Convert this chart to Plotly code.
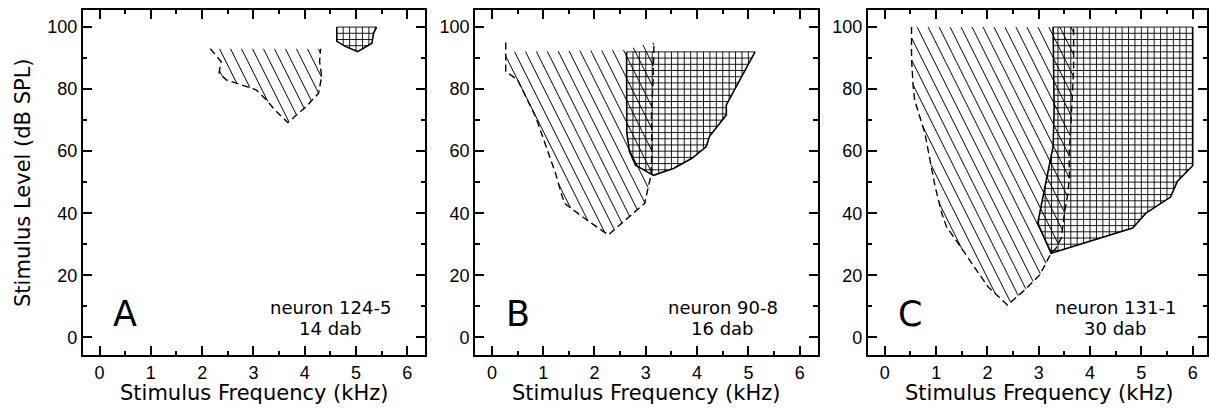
import numpy as np
import plotly.graph_objects as go

# ---------------- data ----------------
# Panel A (neuron 124-5, 14 dab)
A_tc_freq = [2.16, 2.37, 2.33, 2.47, 3.05, 3.25, 3.41, 3.67, 4.03, 4.27, 4.33, 4.29, 4.31]
A_tc_level = [93, 88.9, 85.2, 83, 79.8, 76.6, 73.4, 69.2, 74.4, 78.7, 84.1, 88.9, 93]
A_tc_top_freq = []
A_tc_top_level = []
A_ra_freq = [4.625, 4.625, 4.8, 5.03, 5.31, 5.34, 5.4]
A_ra_level = [100, 95.4, 93.7, 92.1, 94.8, 98, 100]

# Panel B (neuron 90-8, 16 dab)
B_tc_freq = [0.27, 0.27, 0.50, 0.69, 0.85, 1.24, 1.37, 1.43, 1.85, 2.27, 2.69, 2.98,
             3.05, 3.10, 3.12, 3.11, 3.14, 3.16]
B_tc_level = [95, 85.7, 83, 76.5, 71.2, 52.9, 45.4, 43, 37.8, 33, 38.9, 43.2,
              48.6, 52, 60, 72, 82, 95]
B_tc_top_freq = [3.0, 2.6, 0.27]
B_tc_top_level = [94.5, 92.6, 92]
B_ra_freq = [2.625, 2.63, 2.68, 2.80, 3.15, 3.55, 3.90, 4.18, 4.24, 4.57, 4.57, 5.13]
B_ra_level = [92, 66, 60, 55.5, 52.2, 54.5, 57.7, 61.5, 64.7, 71.7, 74.9, 92]

# Panel C (neuron 131-1, 30 dab)
C_tc_freq = [0.52, 0.52, 0.55, 0.58, 0.78, 0.88, 0.98, 1.11, 1.20, 1.56, 2.01, 2.39,
             2.73, 3.02, 3.11, 3.24, 3.34, 3.44, 3.50, 3.57, 3.60, 3.59, 3.63, 3.66, 3.68, 3.68]
C_tc_level = [100, 90, 81.4, 76.5, 65.8, 57.2, 48.6, 40, 35.7, 27.1, 16.3, 10.4,
              15.3, 20.1, 22.8, 27.1, 28.8, 32, 40, 46.5, 52, 58, 70, 80, 86, 100]
C_tc_top_freq = []
C_tc_top_level = []
C_ra_freq = [3.28, 3.30, 3.28, 3.18, 3.08, 2.98, 3.24, 4.83, 5.09, 5.57, 5.70, 6.0, 6.0]
C_ra_level = [100, 73.3, 61.5, 52.9, 45.4, 36.8, 27.1, 35.2, 40, 45.2, 50.2, 55.3, 100]

panel_letters = ["A", "B", "C"]
neuron_ids = ["neuron 124-5", "neuron 90-8", "neuron 131-1"]
dab_labels = ["14 dab", "16 dab", "30 dab"]

x_ticks = [0, 1, 2, 3, 4, 5, 6]
y_ticks = [0, 20, 40, 60, 80, 100]
x_title = "Stimulus Frequency (kHz)"
y_title = "Stimulus Level (dB SPL)"

# ---------------- style / geometry ----------------
W, H = 1209, 409
KX, KY = 51.39, 3.102           # px per kHz, px per dB
HATCH_SLOPE = 2 * KX / KY        # diagonal hatch: 2 px down per px right
HATCH_STEP = 22 / KY             # ~11 px horizontal spacing
GRID_DX, GRID_DY = 0.125, 2.0    # cross-hatch spacing (kHz, dB)

x_domains = [[83 / W, 426 / W], [476 / W, 819 / W], [869.3 / W, 1.0]]
x_ranges = [[-0.325, 6.35], [-0.325, 6.35], [-0.331, 6.28]]
y_domain = [1 - 355 / H, 1 - 9.7 / H]
y_range = [-5.71, 105.6]

TICK_FONT = dict(family="Liberation Sans", size=18, color="black")
TITLE_FONT = dict(family="DejaVu Sans", size=21, color="black")
LABEL_FONT = dict(family="DejaVu Sans", size=18, color="black")
LETTER_FONT = dict(family="DejaVu Sans", size=35, color="black")


def clip_family(xs, ys, a, b, levels, key):
    """Segments of lines a*x + b*y = c lying inside the polygon (xs, ys)."""
    px = np.asarray(xs, float)
    py = np.asarray(ys, float)
    qx = np.roll(px, -1)
    qy = np.roll(py, -1)
    f1 = a * px + b * py
    f2 = a * qx + b * qy
    outx, outy = [], []
    for c in levels:
        pts = []
        for i in range(len(px)):
            lo, hi = f1[i], f2[i]
            if (lo <= c < hi) or (hi <= c < lo):
                t = (c - lo) / (hi - lo)
                pts.append((px[i] + t * (qx[i] - px[i]), py[i] + t * (qy[i] - py[i])))
        pts.sort(key=key)
        for j in range(0, len(pts) - 1, 2):
            outx += [pts[j][0], pts[j + 1][0], None]
            outy += [pts[j][1], pts[j + 1][1], None]
    return outx, outy


def diag_hatch(xs, ys):
    f = np.asarray(ys) + HATCH_SLOPE * np.asarray(xs)
    levels = np.arange(np.floor(f.min() / HATCH_STEP), np.ceil(f.max() / HATCH_STEP) + 1) * HATCH_STEP + 0.3
    return clip_family(xs, ys, HATCH_SLOPE, 1.0, levels, key=lambda p: p[0])


def cross_hatch(xs, ys):
    xs_a = np.asarray(xs)
    ys_a = np.asarray(ys)
    lv = np.arange(np.floor(xs_a.min() / GRID_DX), np.ceil(xs_a.max() / GRID_DX) + 1) * GRID_DX - 1e-6
    vx, vy = clip_family(xs, ys, 1.0, 0.0, lv, key=lambda p: p[1])
    lh = np.arange(np.floor(ys_a.min() / GRID_DY), np.ceil(ys_a.max() / GRID_DY) + 1) * GRID_DY - 1e-6
    hx, hy = clip_family(xs, ys, 0.0, 1.0, lh, key=lambda p: p[0])
    return vx + hx, vy + hy


panels = [
    (A_tc_freq, A_tc_level, A_tc_top_freq, A_tc_top_level, A_ra_freq, A_ra_level),
    (B_tc_freq, B_tc_level, B_tc_top_freq, B_tc_top_level, B_ra_freq, B_ra_level),
    (C_tc_freq, C_tc_level, C_tc_top_freq, C_tc_top_level, C_ra_freq, C_ra_level),
]

fig = go.Figure()
annotations = []

for i, (tf, tl, ttf, ttl, rf, rl) in enumerate(panels):
    xa = "x" if i == 0 else f"x{i + 1}"
    ya = "y" if i == 0 else f"y{i + 1}"
    common = dict(xaxis=xa, yaxis=ya, mode="lines", hoverinfo="skip", showlegend=False)

    # cross-hatched response area
    gx, gy = cross_hatch(rf, rl)
    fig.add_trace(go.Scatter(x=gx, y=gy, line=dict(color="black", width=0.9), **common))
    # diagonally hatched tuning area
    hx, hy = diag_hatch(list(tf) + list(ttf), list(tl) + list(ttl))
    fig.add_trace(go.Scatter(x=hx, y=hy, line=dict(color="black", width=1), **common))
    # outlines
    fig.add_trace(go.Scatter(x=rf, y=rl, line=dict(color="black", width=1.6), **common))
    fig.add_trace(go.Scatter(x=tf, y=tl, line=dict(color="black", width=1.4, dash="7px,4px"), **common))

    axis_common = dict(
        showline=True, linewidth=2, linecolor="black", mirror="ticks",
        ticks="inside", ticklen=9, tickwidth=2, tickcolor="black",
        showgrid=False, zeroline=False, tickfont=TICK_FONT,
    )
    fig.layout[("xaxis" if i == 0 else f"xaxis{i + 1}")] = dict(
        domain=x_domains[i], range=x_ranges[i], anchor=ya,
        tickmode="array", tickvals=x_ticks,
        minor=dict(dtick=0.5, tick0=0, ticks="inside", ticklen=4.5, tickwidth=1.5, tickcolor="black"),
        **axis_common,
    )
    fig.layout[("yaxis" if i == 0 else f"yaxis{i + 1}")] = dict(
        domain=y_domain, range=y_range, anchor=xa,
        tickmode="array", tickvals=y_ticks,
        minor=dict(dtick=10, tick0=0, ticks="inside", ticklen=4.5, tickwidth=1.5, tickcolor="black"),
        **axis_common,
    )

    annotations.append(dict(text=panel_letters[i], x=0.5, y=7.4, xref=xa, yref=ya,
                            showarrow=False, font=LETTER_FONT, xanchor="center", yanchor="middle"))
    annotations.append(dict(text=neuron_ids[i], x=4.5, y=9.6, xref=xa, yref=ya,
                            showarrow=False, font=LABEL_FONT, xanchor="center", yanchor="middle"))
    annotations.append(dict(text=dab_labels[i], x=4.5, y=2.8, xref=xa, yref=ya,
                            showarrow=False, font=LABEL_FONT, xanchor="center", yanchor="middle"))
    # x axis title, centred on the full panel width
    xc = x_domains[i][0] + (426 - 83) / W / 2
    annotations.append(dict(text=x_title, x=xc, y=1 - 392.5 / H, xref="paper", yref="paper",
                            showarrow=False, font=TITLE_FONT, xanchor="center", yanchor="middle"))

annotations.append(dict(text=y_title, x=23 / W, y=1 - 182 / H, xref="paper", yref="paper",
                        textangle=-90, showarrow=False, font=TITLE_FONT,
                        xanchor="center", yanchor="middle"))

fig.update_layout(
    width=W, height=H,
    margin=dict(l=0, r=0, t=0, b=0),
    paper_bgcolor="white", plot_bgcolor="white",
    annotations=annotations,
    showlegend=False,
)

fig.write_html("out.html",
               config={"displayModeBar": False},
               post_script="document.body.style.margin='0';document.body.style.overflow='hidden';")
